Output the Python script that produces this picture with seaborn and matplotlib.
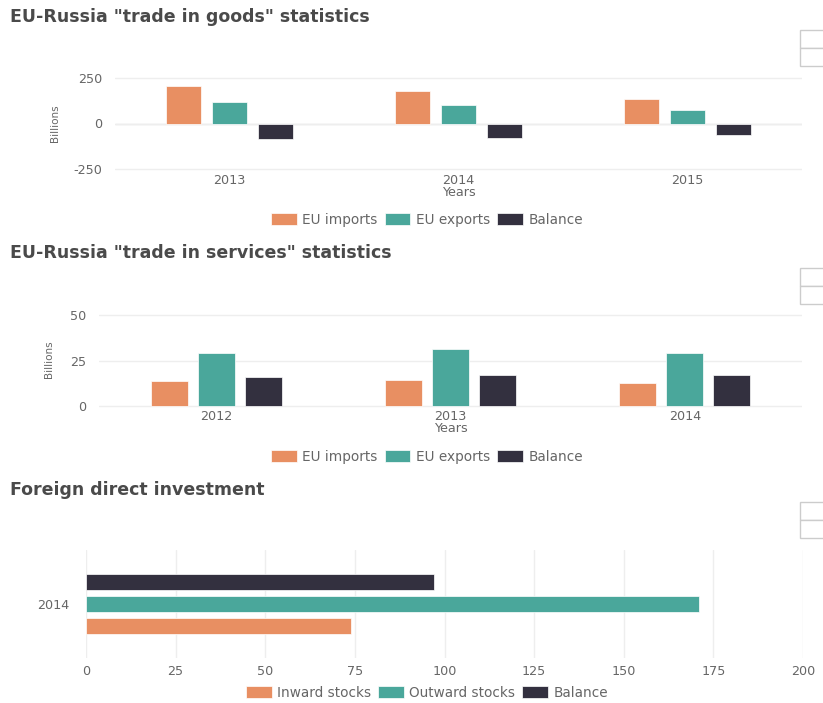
import pandas as pd
import numpy as np
import matplotlib.pyplot as plt
import seaborn as sns
from matplotlib.patches import Patch, Rectangle

# 데이터
goods_years = ['2013', '2014', '2015']
goods_imports = [206.5, 181.3, 135.9]
goods_exports = [119.8, 103.2, 73.7]
goods_balance = [-86.7, -78.1, -62.2]

serv_years = ['2012', '2013', '2014']
serv_imports = [13.7, 14.3, 12.6]
serv_exports = [29.4, 31.5, 29.4]
serv_balance = [15.9, 16.8, 16.8]

fdi_year = ['2014']
fdi_inward = [74.0]
fdi_outward = [171.0]
fdi_balance = [97.0]

trade_series = ['EU imports', 'EU exports', 'Balance']
fdi_series = ['Inward stocks', 'Outward stocks', 'Balance']
colors = ['#E88F62', '#4AA79B', '#33303F']

W, H = 823, 703
TXT = '#666666'
TITLE = '#4a4a4a'


def px_axes(fig, l, t, r, b):
    return fig.add_axes([l / W, 1 - b / H, (r - l) / W, (b - t) / H])


def long_df(cats, a, b, c, names, key):
    rows = []
    for cat, va, vb, vc in zip(cats, a, b, c):
        for n, v in zip(names, (va, vb, vc)):
            rows.append({key: cat, 'series': n, 'value': v})
    return pd.DataFrame(rows)


def style_axes(ax, grid_axis):
    for s in ax.spines.values():
        s.set_visible(False)
    ax.tick_params(length=0, colors=TXT, labelsize=9.2)
    ax.grid(False)
    if grid_axis == 'y':
        ax.yaxis.grid(True, color='#eeeeee', linewidth=1)
    else:
        ax.xaxis.grid(True, color='#eeeeee', linewidth=1)
    ax.set_axisbelow(True)


def add_legend(fig, names, cx, cy):
    handles = [Patch(facecolor=c, edgecolor='white', linewidth=0.5) for c in colors]
    fig.legend(handles, names, loc='center', bbox_to_anchor=(cx / W, 1 - cy / H),
               ncol=3, frameon=False, fontsize=9.8, labelcolor=TXT,
               handlelength=1.9, handleheight=1.0, handletextpad=0.4,
               columnspacing=0.5)


def modebar(fig, top):
    for k in range(2):
        fig.patches.append(Rectangle((800 / W, 1 - (top + 18 * (k + 1)) / H), 30 / W, 18 / H,
                                     transform=fig.transFigure, facecolor='white',
                                     edgecolor='#cccccc', linewidth=1))


sns.set_theme(style='white')
plt.rcParams['font.family'] = ['DejaVu Sans']
plt.rcParams['axes.unicode_minus'] = False

fig = plt.figure(figsize=(W / 100, H / 100), dpi=100)

# 1. 상품 무역
df1 = long_df(goods_years, goods_imports, goods_exports, goods_balance, trade_series, 'year')
ax1 = px_axes(fig, 115, 74, 802, 173)
sns.barplot(data=df1, x='year', y='value', hue='series', hue_order=trade_series,
            palette=colors, saturation=1, width=0.6, gap=0.23, ax=ax1, legend=False,
            edgecolor='white', linewidth=0.5)
style_axes(ax1, 'y')
ax1.axhline(0, color='#e4e4e4', linewidth=1, zorder=0)
ax1.set_ylim(-272, 272)
ax1.set_xlim(-0.5, 2.5)
ax1.set_yticks([-250, 0, 250])
ax1.set_ylabel('Billions', fontsize=7.5, color=TXT, labelpad=10)
ax1.set_xlabel('Years', fontsize=9.2, color=TXT, labelpad=-1)
ax1.tick_params(axis='x', pad=1)
ax1.tick_params(axis='y', pad=9)
fig.text(10 / W, 1 - 17 / H, 'EU-Russia "trade in goods" statistics', fontsize=12.5,
         fontweight='bold', color=TITLE, va='center')
add_legend(fig, trade_series, 427, 220)
modebar(fig, 30)

# 2. 서비스 무역
df2 = long_df(serv_years, serv_imports, serv_exports, serv_balance, trade_series, 'year')
ax2 = px_axes(fig, 99, 310, 802, 409)
sns.barplot(data=df2, x='year', y='value', hue='series', hue_order=trade_series,
            palette=colors, saturation=1, width=0.6, gap=0.21, ax=ax2, legend=False,
            edgecolor='white', linewidth=0.5)
style_axes(ax2, 'y')
ax2.set_ylim(-1.8, 53)
ax2.set_xlim(-0.5, 2.5)
ax2.set_yticks([0, 25, 50])
ax2.set_ylabel('Billions', fontsize=7.5, color=TXT, labelpad=12)
ax2.set_xlabel('Years', fontsize=9.2, color=TXT, labelpad=-1)
ax2.tick_params(axis='x', pad=1)
ax2.tick_params(axis='y', pad=9)
fig.text(10 / W, 1 - 253 / H, 'EU-Russia "trade in services" statistics', fontsize=12.5,
         fontweight='bold', color=TITLE, va='center')
add_legend(fig, trade_series, 427, 457)
modebar(fig, 268)

# 3. 외국인 직접 투자
df3 = long_df(fdi_year, fdi_inward, fdi_outward, fdi_balance, fdi_series, 'year')
ax3 = px_axes(fig, 86, 550, 803, 658)
sns.barplot(data=df3, y='year', x='value', hue='series', hue_order=fdi_series,
            palette=colors, saturation=1, width=0.6, gap=0.26, ax=ax3, legend=False,
            orient='h', edgecolor='white', linewidth=0.5)
style_axes(ax3, 'x')
ax3.set_xlim(0, 200)
ax3.set_ylim(-0.5, 0.5)
ax3.set_xticks([0, 25, 50, 75, 100, 125, 150, 175, 200])
ax3.set_xlabel('')
ax3.set_ylabel('')
ax3.tick_params(axis='y', pad=12)
ax3.tick_params(axis='x', pad=5)
fig.text(10 / W, 1 - 490 / H, 'Foreign direct investment', fontsize=12.5,
         fontweight='bold', color=TITLE, va='center')
add_legend(fig, fdi_series, 427, 693)
modebar(fig, 502)

plt.savefig('out.png', dpi=100)
